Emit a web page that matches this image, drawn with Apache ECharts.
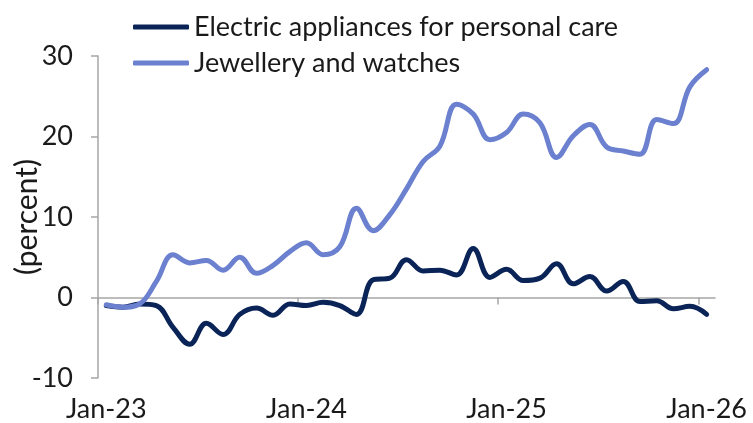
<!DOCTYPE html>
<html>
<head>
<meta charset="utf-8">
<script src="https://cdn.jsdelivr.net/npm/echarts@6/dist/echarts.min.js"></script>
<style>
html,body{margin:0;padding:0;background:#fff;}
#chart{width:753px;height:423px;}
</style>
</head>
<body>
<div id="chart"></div>
<script>
// Monthly observations Jan-23 .. Jan-26
const months = ['Jan-23','Feb-23','Mar-23','Apr-23','May-23','Jun-23','Jul-23','Aug-23','Sep-23','Oct-23','Nov-23','Dec-23',
  'Jan-24','Feb-24','Mar-24','Apr-24','May-24','Jun-24','Jul-24','Aug-24','Sep-24','Oct-24','Nov-24','Dec-24',
  'Jan-25','Feb-25','Mar-25','Apr-25','May-25','Jun-25','Jul-25','Aug-25','Sep-25','Oct-25','Nov-25','Dec-25','Jan-26'];
const electric = [-1.0,-1.2,-0.8,-1.0,-3.7,-5.8,-3.2,-4.6,-2.1,-1.3,-2.2,-0.8,
  -1.0,-0.6,-1.0,-2.1,2.2,2.4,4.7,3.3,3.4,2.8,6.1,2.5,
  3.5,2.1,2.4,4.2,1.7,2.6,0.8,2.0,-0.5,-0.4,-1.4,-1.1,-2.1];
const jewellery = [-0.9,-1.2,-0.8,2.0,5.3,4.3,4.6,3.4,5.0,3.0,4.0,5.7,
  6.8,5.3,6.3,11.1,8.3,10.3,13.5,16.9,18.8,24.0,22.8,19.6,
  20.5,22.8,21.7,17.4,20.1,21.5,18.7,18.2,17.8,22.1,21.6,26.2,28.3];
const seriesNames = ['Electric appliances for personal care','Jewellery and watches'];
const tickLabels = ['Jan-23','Jan-24','Jan-25','Jan-26'];
const yTicks = [-10,0,10,20,30];

const FONT = 'Lato';
const axisGray = '#a6a6a6';
const txt = '#1a1a1a';
// month index positions (mid-month)
const pos = i => i + 0.5;
const labelIdx = tickLabels.map(l => months.indexOf(l));

const chart = echarts.init(document.getElementById('chart'), null, {renderer:'canvas'});
chart.setOption({
  animation: false,
  backgroundColor: '#fff',
  grid: {left: 98, right: 38, top: 56, bottom: 45, containLabel: false, outerBoundsMode: 'none'},
  legend: {
    orient: 'vertical', left: 133, top: 13, padding: 0, itemGap: 8,
    itemWidth: 56, itemHeight: 5, icon: 'roundRect',
    textStyle: {fontFamily: FONT, fontSize: 27, color: txt, lineHeight: 28},
    data: seriesNames
  },
  xAxis: [{
    type: 'value', min: 0, max: 37,
    axisLine: {show: true, onZero: true, lineStyle: {color: axisGray, width: 1.5}},
    axisTick: {show: true, inside: false, length: 7, lineStyle: {color: axisGray, width: 1.5},
      customValues: labelIdx},
    axisLabel: {show: false},
    splitLine: {show: false}
  }, {
    type: 'value', min: 0, max: 37, position: 'bottom',
    axisLine: {show: false, onZero: false},
    axisTick: {show: false},
    axisLabel: {show: true, margin: 18, fontFamily: FONT, fontSize: 27, color: txt,
      customValues: labelIdx.map(pos),
      formatter: v => tickLabels[labelIdx.map(pos).indexOf(v)] || ''},
    splitLine: {show: false}
  }],
  yAxis: {
    type: 'value', min: yTicks[0], max: yTicks[yTicks.length-1], interval: 10,
    name: '(percent)', nameLocation: 'middle', nameRotate: 90, nameGap: 56, nameMoveOverlap: false,
    nameTextStyle: {fontFamily: FONT, fontSize: 30, color: txt},
    axisLine: {show: true, lineStyle: {color: axisGray, width: 1.5}},
    axisTick: {show: true, inside: false, length: 7, lineStyle: {color: axisGray, width: 1.5}},
    axisLabel: {margin: 25, fontFamily: FONT, fontSize: 27, color: txt},
    splitLine: {show: false}
  },
  series: [{
    name: seriesNames[0], type: 'line', xAxisIndex: 0, smooth: 0.4, symbol: 'none',
    data: electric.map((v, i) => [pos(i), v]),
    lineStyle: {color: '#0a2458', width: 5, cap: 'round', join: 'round'},
    itemStyle: {color: '#0a2458'}
  }, {
    name: seriesNames[1], type: 'line', xAxisIndex: 0, smooth: 0.4, symbol: 'none',
    data: jewellery.map((v, i) => [pos(i), v]),
    lineStyle: {color: '#6b80cf', width: 5, cap: 'round', join: 'round'},
    itemStyle: {color: '#6b80cf'}
  }]
});
</script>
</body>
</html>
